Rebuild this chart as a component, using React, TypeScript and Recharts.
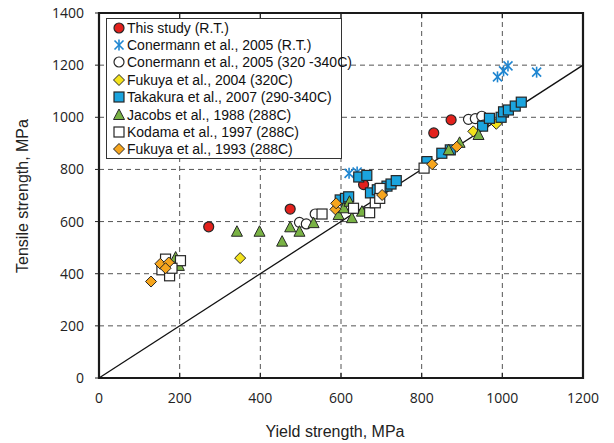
import React from 'react';
import {
  ScatterChart,
  Scatter,
  XAxis,
  YAxis,
  CartesianGrid,
  ReferenceLine,
  ReferenceArea,
  Legend,
} from 'recharts';

type Pt = [number, number];

// Yield strength (x) vs tensile strength (y), MPa
const thisStudy: Pt[] = [
  [272, 580], [474, 648], [656, 742], [830, 940], [873, 990],
];
const conermannRT: Pt[] = [
  [620, 785], [640, 790], [988, 1155], [1003, 1178], [1014, 1197], [1085, 1173],
];
const conermannHot: Pt[] = [
  [497, 597], [514, 591], [536, 629], [916, 992], [933, 995], [949, 1004], [953, 970],
];
const fukuya2004: Pt[] = [
  [350, 460], [928, 946], [985, 975],
];
const takakura2007: Pt[] = [
  [598, 683], [611, 689], [619, 695], [644, 771], [664, 777], [673, 710], [690, 722],
  [701, 727], [714, 736], [724, 744], [737, 757], [813, 830], [850, 862], [871, 875],
  [951, 966], [968, 996], [997, 1000], [1003, 1021], [1015, 1028], [1032, 1043], [1047, 1058],
];
const jacobs1988: Pt[] = [
  [190, 462], [198, 430], [342, 561], [398, 561], [454, 523], [474, 578], [497, 561],
  [532, 594], [594, 625], [607, 651], [621, 676], [627, 613], [652, 638], [867, 874],
  [894, 902], [941, 932],
];
const kodama1997: Pt[] = [
  [165, 456], [202, 450], [156, 415], [175, 392], [181, 421], [553, 629], [631, 651],
  [671, 634], [685, 672], [696, 689], [697, 727], [806, 805],
];
const fukuya1993: Pt[] = [
  [129, 370], [152, 438], [173, 443], [165, 421], [586, 647], [588, 670], [702, 702],
  [826, 820], [887, 887],
];

const xTicks = [0, 200, 400, 600, 800, 1000, 1200];
const yTicks = [0, 200, 400, 600, 800, 1000, 1200, 1400];

type Kind = 'circle' | 'star' | 'diamond' | 'square' | 'triangle';
interface SeriesDef {
  name: string;
  data: Pt[];
  kind: Kind;
  fill: string;
}

const series: SeriesDef[] = [
  { name: 'This study (R.T.)', data: thisStudy, kind: 'circle', fill: '#e3211c' },
  { name: 'Conermann et al., 2005 (R.T.)', data: conermannRT, kind: 'star', fill: '#1f86d1' },
  { name: 'Conermann et al., 2005 (320 -340C)', data: conermannHot, kind: 'circle', fill: '#ffffff' },
  { name: 'Fukuya et al., 2004 (320C)', data: fukuya2004, kind: 'diamond', fill: '#f3e21c' },
  { name: 'Takakura et al., 2007 (290-340C)', data: takakura2007, kind: 'square', fill: '#1ba4de' },
  { name: 'Jacobs et al., 1988 (288C)', data: jacobs1988, kind: 'triangle', fill: '#79b244' },
  { name: 'Kodama et al., 1997 (288C)', data: kodama1997, kind: 'square', fill: '#ffffff' },
  { name: 'Fukuya et al., 1993 (288C)', data: fukuya1993, kind: 'diamond', fill: '#f6a51d' },
];

const EDGE = '#262626';

function Marker({ cx, cy, kind, fill }: { cx: number; cy: number; kind: Kind; fill: string }) {
  if (cx == null || cy == null) return null;
  switch (kind) {
    case 'circle':
      return <circle cx={cx} cy={cy} r={5} fill={fill} stroke={EDGE} strokeWidth={1.2} />;
    case 'square':
      return <rect x={cx - 5} y={cy - 5} width={10} height={10} fill={fill} stroke={EDGE} strokeWidth={1.2} />;
    case 'diamond':
      return (
        <polygon
          points={`${cx},${cy - 5.5} ${cx + 5.5},${cy} ${cx},${cy + 5.5} ${cx - 5.5},${cy}`}
          fill={fill}
          stroke={EDGE}
          strokeWidth={1}
        />
      );
    case 'triangle':
      return (
        <polygon
          points={`${cx},${cy - 6} ${cx + 5.5},${cy + 4.5} ${cx - 5.5},${cy + 4.5}`}
          fill={fill}
          stroke={EDGE}
          strokeWidth={1}
        />
      );
    case 'star':
      return (
        <g stroke={fill} strokeWidth={1.6}>
          <line x1={cx - 4.5} y1={cy - 4.5} x2={cx + 4.5} y2={cy + 4.5} />
          <line x1={cx - 4.5} y1={cy + 4.5} x2={cx + 4.5} y2={cy - 4.5} />
          <line x1={cx} y1={cy - 5.5} x2={cx} y2={cy + 5.5} />
        </g>
      );
    default:
      return null;
  }
}

const LegendBox = () => (
  <div
    style={{
      width: 234,
      height: 139,
      border: '1px solid #333',
      background: '#fff',
      fontFamily: '"Liberation Sans", Arial, sans-serif',
      fontSize: 14,
      color: '#111',
      boxSizing: 'content-box',
    }}
  >
    {series.map((s) => (
      <div key={s.name} style={{ display: 'flex', alignItems: 'center', height: 17.4, whiteSpace: 'nowrap' }}>
        <svg width={14} height={14} style={{ marginLeft: 5, flex: 'none' }}>
          <Marker cx={7} cy={7} kind={s.kind} fill={s.fill} />
        </svg>
        <span style={{ marginLeft: 1 }}>{s.name}</span>
      </div>
    ))}
  </div>
);

const tickStyle = { fontFamily: '"Open Sans", sans-serif', fontSize: 14, fill: '#222' };

export default function App() {
  return (
    <div style={{ position: 'absolute', left: 0, top: 0, background: '#fff' }}>
      <ScatterChart width={614} height={443} margin={{ top: 13, right: 31, bottom: 0, left: 0 }}>
        <CartesianGrid stroke="#555" strokeDasharray="5 4" strokeWidth={1} />
        <XAxis
          type="number"
          dataKey="x"
          domain={[0, 1200]}
          ticks={xTicks}
          allowDataOverflow
          height={65}
          tickLine={false}
          tickSize={6}
          tickMargin={9}
          axisLine={false}
          tick={tickStyle}
          label={{
            content: () => (
              <text
                x={335}
                y={437}
                textAnchor="middle"
                fontFamily='"Liberation Sans", Arial, sans-serif'
                fontSize={16}
                fill="#222"
              >
                Yield strength, MPa
              </text>
            ),
          }}
        />
        <YAxis
          type="number"
          dataKey="y"
          domain={[0, 1400]}
          ticks={yTicks}
          allowDataOverflow
          width={99}
          tickSize={4}
          tickMargin={11}
          tickLine={{ stroke: '#222' }}
          axisLine={false}
          tick={tickStyle}
          label={{
            content: () => (
              <text
                x={28}
                y={196}
                transform="rotate(-90 28 196)"
                textAnchor="middle"
                fontFamily='"Liberation Sans", Arial, sans-serif'
                fontSize={16}
                fill="#222"
              >
                Tensile strength, MPa
              </text>
            ),
          }}
        />
        {/* inward tick marks on the bottom and top edges */}
        {xTicks.slice(1, -1).map((t) => (
          <ReferenceLine
            key={`b${t}`}
            segment={[{ x: t, y: 0 }, { x: t, y: 20 }]}
            stroke="#222"
            strokeWidth={1.2}
          />
        ))}
        {xTicks.slice(1, -1).map((t) => (
          <ReferenceLine
            key={`t${t}`}
            segment={[{ x: t, y: 1380 }, { x: t, y: 1400 }]}
            stroke="#222"
            strokeWidth={1.2}
          />
        ))}
        <ReferenceLine
          segment={[{ x: 0, y: 0 }, { x: 1200, y: 1200 }]}
          stroke="#111"
          strokeWidth={1.3}
        />
        <ReferenceArea x1={0} x2={1200} y1={0} y2={1400} fill="none" stroke="#1a1a1a" strokeWidth={2.2} />
        {series.map((s) => (
          <Scatter
            key={s.name}
            name={s.name}
            data={s.data.map(([x, y]) => ({ x, y }))}
            isAnimationActive={false}
            shape={(p: any) => <Marker cx={p.cx} cy={p.cy} kind={s.kind} fill={s.fill} />}
          />
        ))}
        <Legend
          layout="vertical"
          align="center"
          verticalAlign="middle"
          wrapperStyle={{ left: 106, top: 18, width: 'auto', height: 'auto' }}
          content={() => <LegendBox />}
        />
      </ScatterChart>
    </div>
  );
}
